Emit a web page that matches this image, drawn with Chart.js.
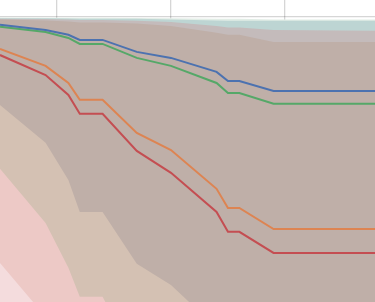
<!DOCTYPE html>
<html>
<head>
<meta charset="utf-8">
<script src="https://cdn.jsdelivr.net/npm/chart.js@4/dist/chart.umd.min.js"></script>
<style>
  html, body { margin: 0; padding: 0; background: #fff; }
  #wrap { width: 375px; height: 302px; position: relative; }
</style>
</head>
<body>
<div id="wrap"><canvas id="chart"></canvas></div>
<script>
// x positions of the vertices shared by every curve
const xVals = [-5, -1, 1, 2, 4, 7, 10, 14, 15, 16, 19, 27.9];

// lines
const blueVals   = [0.972, 0.954, 0.937, 0.919, 0.919, 0.877, 0.856, 0.807, 0.775, 0.775, 0.740, 0.740];
const greenVals  = [0.965, 0.947, 0.926, 0.905, 0.905, 0.856, 0.828, 0.768, 0.733, 0.733, 0.695, 0.695];
const orangeVals = [0.887, 0.828, 0.768, 0.709, 0.709, 0.593, 0.533, 0.397, 0.330, 0.330, 0.256, 0.256];
const redVals    = [0.866, 0.796, 0.726, 0.660, 0.660, 0.530, 0.453, 0.316, 0.246, 0.246, 0.172, 0.172];

// filled bands (top edge of each shaded area)
const lightGreenVals = [0.998, 0.997, 0.997, 0.997, 0.997, 0.996, 0.995, 0.993, 0.993, 0.993, 0.991, 0.991];
const tealVals       = [0.995, 0.995, 0.994, 0.993, 0.993, 0.993, 0.991, 0.987, 0.986, 0.986, 0.986, 0.986];
const grayVals       = [0.993, 0.992, 0.991, 0.989, 0.989, 0.986, 0.982, 0.968, 0.963, 0.963, 0.954, 0.951];
const brownVals      = [0.991, 0.987, 0.984, 0.980, 0.980, 0.977, 0.968, 0.944, 0.937, 0.937, 0.912, 0.912];
const beigeVals      = [0.691, 0.558, 0.428, 0.316, 0.316, 0.134, 0.060, -0.091];
const pinkVals       = [0.467, 0.277, 0.120, 0.018, 0.018, -0.203];
const lightPinkVals  = [0.137, -0.052];

const xGrid = [0, 10, 20];
const yGrid = [0.25, 0.5, 0.75, 1.0];

const toPoints = vals => vals.map((v, i) => ({ x: xVals[i], y: v }));

const lineSet = (vals, color) => ({
    data: toPoints(vals),
    borderColor: color,
    borderWidth: 2,
    pointRadius: 0,
    fill: false
});

const bandSet = (vals, color) => ({
    data: toPoints(vals),
    borderWidth: 0,
    borderColor: 'rgba(0,0,0,0)',
    backgroundColor: color,
    pointRadius: 0,
    fill: 'start'
});

const ctx = document.getElementById('chart').getContext('2d');
new Chart(ctx, {
    type: 'line',
    data: {
        datasets: [
            lineSet(blueVals, '#4c72b0'),
            lineSet(greenVals, '#55a868'),
            lineSet(orangeVals, '#dd8452'),
            lineSet(redVals, '#c44e52'),
            bandSet(lightPinkVals, '#f4dcdd'),
            bandSet(pinkVals, '#edc9c6'),
            bandSet(beigeVals, '#d4c1b3'),
            bandSet(brownVals, '#bfafa8'),
            bandSet(grayVals, '#c4bbbb'),
            bandSet(tealVals, '#bdd5d3'),
            bandSet(lightGreenVals, '#e2ede6')
        ]
    },
    options: {
        responsive: true,
        maintainAspectRatio: false,
        animation: false,
        layout: { padding: 0 },
        plugins: {
            legend: { display: false },
            tooltip: { enabled: false }
        },
        scales: {
            x: {
                type: 'linear',
                min: -5,
                max: 27.9,
                z: 1,
                afterBuildTicks: axis => { axis.ticks = xGrid.map(v => ({ value: v })); },
                ticks: { display: false },
                border: { display: false },
                grid: { color: 'rgba(0,0,0,0.16)', lineWidth: 1.3, drawTicks: false }
            },
            y: {
                type: 'linear',
                min: 0,
                max: 1.059,
                z: 1,
                afterBuildTicks: axis => { axis.ticks = yGrid.map(v => ({ value: v })); },
                ticks: { display: false },
                border: { display: false },
                grid: { color: 'rgba(0,0,0,0.16)', lineWidth: 1.3, drawTicks: false }
            }
        }
    }
});
</script>
</body>
</html>
